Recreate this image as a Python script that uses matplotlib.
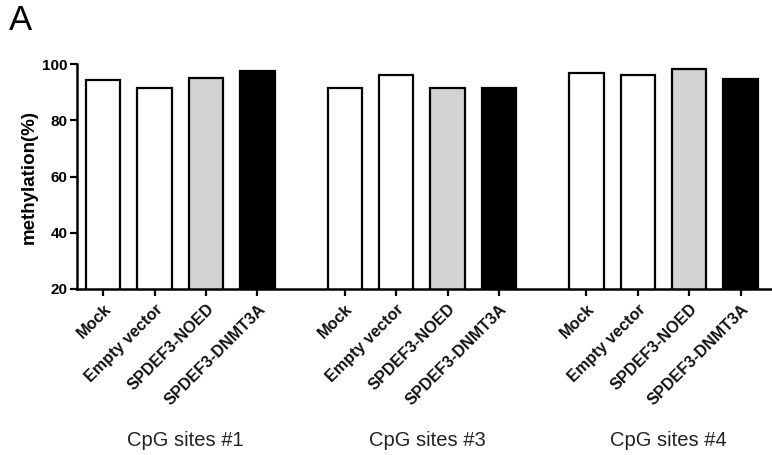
import matplotlib
matplotlib.use("Agg")
import matplotlib.pyplot as plt
import matplotlib.transforms as mtransforms
import numpy as np

plt.rcParams['font.family'] = ['Liberation Sans', 'DejaVu Sans']

conditions = ["Mock", "Empty vector", "SPDEF3-NOED", "SPDEF3-DNMT3A"]
groups = ["CpG sites #1", "CpG sites #3", "CpG sites #4"]
site1 = [94.3, 91.6, 95.1, 97.6]
site3 = [91.4, 96.1, 91.4, 91.6]
site4 = [96.9, 96.2, 98.2, 94.7]
values = [site1, site3, site4]
fills = ["white", "white", "#d3d3d3", "black"]

fig = plt.figure(figsize=(7.72, 4.55), dpi=100)
ax = fig.add_axes([77/772, 1 - 289/455, (772 - 77)/772, (289 - 64)/455])

group_offset = 4.7
trans = mtransforms.blended_transform_factory(ax.transData, fig.transFigure)
xs_all, labels_all = [], []
for g, vals in enumerate(values):
    xs = np.arange(len(conditions)) + g * group_offset
    ax.bar(xs, vals, width=0.67, color=fills, edgecolor="black", linewidth=1.6,
           zorder=2)
    xs_all.extend(xs)
    labels_all.extend(conditions)
    ax.text(xs.mean() + 0.1, 1 - 440/455, groups[g], transform=trans,
            ha="center", va="center", fontsize=14.5, color="#222222", clip_on=False)

ax.set_ylim(20, 100)
ax.set_xlim(-0.51, 3 + 2 * group_offset + 0.61)
ax.set_yticks([20, 40, 60, 80, 100])
ax.set_xticks(xs_all)
ax.set_xticklabels(labels_all, rotation=45, ha="right", va="top",
                   rotation_mode="anchor", fontsize=11.6, fontweight="bold",
                   color="#111111")
for lbl in ax.get_yticklabels():
    lbl.set_fontweight("bold")
    lbl.set_fontsize(11)
ax.tick_params(axis="both", direction="out", width=1.6, length=5, color="black")
ax.tick_params(axis="x", pad=4)
ax.tick_params(axis="y", pad=2)
for s in ["top", "right"]:
    ax.spines[s].set_visible(False)
for s in ["left", "bottom"]:
    ax.spines[s].set_linewidth(1.8)
ax.set_ylabel("methylation(%)", fontsize=13.5, fontweight="bold", labelpad=3)

fig.text(9/772, 1 - 21/455, "A", fontsize=25, ha="left", va="center")

fig.savefig("out.png", dpi=100)
